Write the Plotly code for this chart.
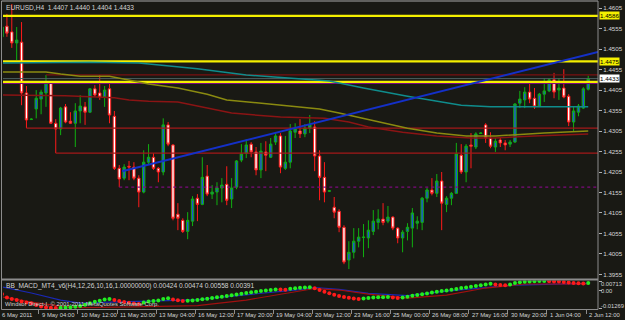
import plotly.graph_objects as go

# ---------------- data ----------------
bars = list(range(-8, 113))  # H4 bar index, 0 = 9 May 04:00

open_ = [1.4535, 1.4561, 1.4547, 1.4520, 1.4522, 1.4398, 1.4333, 1.4359,
         1.4383, 1.4398, 1.4422, 1.4324, 1.4310, 1.4364, 1.4329, 1.4324, 1.4354, 1.4364,
         1.4351, 1.4408, 1.4398, 1.4388, 1.4408, 1.4341, 1.4214, 1.4190, 1.4219, 1.4217,
         1.4190, 1.4156, 1.4229, 1.4241, 1.4214, 1.4205, 1.4320, 1.4271, 1.4102, 1.4087,
         1.4060, 1.4085, 1.4141, 1.4126, 1.4195, 1.4151, 1.4156, 1.4166, 1.4175, 1.4139,
         1.4168, 1.4234, 1.4251, 1.4273, 1.4254, 1.4210, 1.4254, 1.4241, 1.4278, 1.4293,
         1.4214, 1.4229, 1.4302, 1.4305, 1.4298, 1.4312, 1.4315, 1.4244, 1.4192, 1.4158,
         1.4119, 1.4109, 1.4070, 1.3990, 1.4009, 1.4036, 1.4045, 1.4044, 1.4060, 1.4082,
         1.4090, 1.4085, 1.4095, 1.4068, 1.4044, 1.4060, 1.4068, 1.4080, 1.4082, 1.4141,
         1.4161, 1.4153, 1.4183, 1.4126, 1.4141, 1.4153, 1.4246, 1.4205, 1.4271, 1.4266,
         1.4299, 1.4320, 1.4288, 1.4266, 1.4283, 1.4276, 1.4273, 1.4278, 1.4373, 1.4381,
         1.4400, 1.4385, 1.4366, 1.4395, 1.4403, 1.4430, 1.4405, 1.4410, 1.4390, 1.4327,
         1.4351, 1.4361, 1.4407]
high = [1.4576, 1.4591, 1.4615, 1.4559, 1.4571, 1.4415, 1.4336, 1.4405,
        1.4406, 1.4442, 1.4425, 1.4334, 1.4364, 1.4371, 1.4351, 1.4373, 1.4393, 1.4376,
        1.4410, 1.4417, 1.4442, 1.4415, 1.4420, 1.4354, 1.4222, 1.4224, 1.4232, 1.4229,
        1.4197, 1.4258, 1.4273, 1.4251, 1.4217, 1.4336, 1.4327, 1.4273, 1.4129, 1.4092,
        1.4107, 1.4146, 1.4151, 1.4241, 1.4222, 1.4173, 1.4180, 1.4190, 1.4219, 1.4190,
        1.4234, 1.4273, 1.4285, 1.4278, 1.4266, 1.4276, 1.4280, 1.4288, 1.4302, 1.4300,
        1.4293, 1.4322, 1.4324, 1.4334, 1.4322, 1.4344, 1.4329, 1.4258, 1.4229, 1.4161,
        1.4144, 1.4114, 1.4075, 1.4036, 1.4068, 1.4068, 1.4078, 1.4087, 1.4112, 1.4114,
        1.4129, 1.4122, 1.4097, 1.4070, 1.4063, 1.4080, 1.4117, 1.4097, 1.4144, 1.4166,
        1.4190, 1.4200, 1.4205, 1.4146, 1.4156, 1.4276, 1.4273, 1.4273, 1.4300, 1.4302,
        1.4302, 1.4324, 1.4302, 1.4288, 1.4288, 1.4283, 1.4283, 1.4373, 1.4403, 1.4412,
        1.4422, 1.4410, 1.4398, 1.4434, 1.4434, 1.4447, 1.4434, 1.4456, 1.4395, 1.4366,
        1.4371, 1.4412, 1.4440]
low = [1.4532, 1.4535, 1.4508, 1.4478, 1.4368, 1.4312, 1.4332, 1.4336,
       1.4346, 1.4364, 1.4322, 1.4251, 1.4295, 1.4324, 1.4322, 1.4266, 1.4324, 1.4320,
       1.4349, 1.4388, 1.4381, 1.4364, 1.4324, 1.4210, 1.4168, 1.4185, 1.4185, 1.4185,
       1.4119, 1.4153, 1.4222, 1.4210, 1.4180, 1.4197, 1.4268, 1.4087, 1.4063, 1.4056,
       1.4041, 1.4073, 1.4085, 1.4124, 1.4146, 1.4139, 1.4124, 1.4131, 1.4124, 1.4117,
       1.4163, 1.4229, 1.4239, 1.4241, 1.4197, 1.4190, 1.4207, 1.4239, 1.4271, 1.4202,
       1.4210, 1.4214, 1.4288, 1.4288, 1.4290, 1.4300, 1.4207, 1.4136, 1.4131, 1.4156,
       1.4092, 1.4058, 1.3980, 1.3968, 1.3994, 1.4021, 1.3997, 1.4019, 1.4051, 1.4065,
       1.4075, 1.4080, 1.4063, 1.4031, 1.4009, 1.4038, 1.4021, 1.4065, 1.4063, 1.4131,
       1.4148, 1.4144, 1.4063, 1.4107, 1.4124, 1.4152, 1.4200, 1.4180, 1.4214, 1.4261,
       1.4298, 1.4276, 1.4263, 1.4254, 1.4266, 1.4258, 1.4266, 1.4276, 1.4361, 1.4361,
       1.4373, 1.4359, 1.4364, 1.4376, 1.4400, 1.4385, 1.4381, 1.4385, 1.4317, 1.4305,
       1.4341, 1.4359, 1.4404]
close = [1.4559, 1.4544, 1.4520, 1.4527, 1.4398, 1.4332, 1.4334, 1.4385,
         1.4400, 1.4422, 1.4324, 1.4310, 1.4361, 1.4327, 1.4324, 1.4354, 1.4366, 1.4351,
         1.4408, 1.4393, 1.4388, 1.4405, 1.4344, 1.4214, 1.4188, 1.4217, 1.4217, 1.4190,
         1.4156, 1.4229, 1.4241, 1.4214, 1.4205, 1.4320, 1.4273, 1.4092, 1.4092, 1.4060,
         1.4087, 1.4139, 1.4126, 1.4192, 1.4151, 1.4156, 1.4166, 1.4173, 1.4136, 1.4166,
         1.4232, 1.4249, 1.4271, 1.4254, 1.4210, 1.4256, 1.4246, 1.4273, 1.4293, 1.4217,
         1.4229, 1.4305, 1.4310, 1.4298, 1.4312, 1.4320, 1.4244, 1.4192, 1.4156, 1.4159,
         1.4107, 1.4070, 1.3985, 1.4009, 1.4036, 1.4046, 1.4046, 1.4063, 1.4085, 1.4090,
         1.4082, 1.4095, 1.4068, 1.4044, 1.4058, 1.4070, 1.4105, 1.4085, 1.4141, 1.4161,
         1.4153, 1.4183, 1.4129, 1.4141, 1.4153, 1.4249, 1.4205, 1.4268, 1.4268, 1.4298,
         1.4300, 1.4288, 1.4268, 1.4280, 1.4276, 1.4271, 1.4278, 1.4371, 1.4383, 1.4400,
         1.4383, 1.4364, 1.4395, 1.4403, 1.4430, 1.4400, 1.4410, 1.4388, 1.4327, 1.4354,
         1.4366, 1.4408, 1.4433]

# moving averages (read at their turning points)
teal_x = [-8, 4, 10, 20, 26, 32, 42, 53, 59, 66, 75, 86, 92, 112]
teal_y = [1.4471, 1.4473, 1.4473, 1.4471, 1.4464, 1.4457, 1.4442, 1.4432, 1.4427,
          1.4410, 1.4390, 1.4368, 1.4364, 1.4364]
olive_x = [-8, 1, 4, 8, 14, 18, 22, 28, 34, 38, 47, 53, 57, 61, 75, 81, 87, 93, 99, 103, 112]
olive_y = [1.4449, 1.4449, 1.4444, 1.4439, 1.4439, 1.4430, 1.4420, 1.4410, 1.4395, 1.4381,
           1.4371, 1.4364, 1.4359, 1.4349, 1.4312, 1.4300, 1.4293, 1.4293, 1.4298, 1.4300, 1.4305]
red_x = [-8, 5, 15, 18, 22, 28, 34, 39, 49, 58, 63, 67, 74, 81, 88, 93, 101, 112]
red_y = [1.4393, 1.4391, 1.4386, 1.4381, 1.4378, 1.4376, 1.4361, 1.4349, 1.4339, 1.4336,
         1.4327, 1.4315, 1.4302, 1.4293, 1.4288, 1.4288, 1.4293, 1.4298]

# trend line and levels
trend_x = [16.6, 114.0]
trend_y = [1.4207, 1.4498]
yellow_levels = [1.4586, 1.4475, 1.4425]
purple_level = 1.4421
bid_level = 1.4433
sr_levels = [1.4442, 1.4312, 1.4251, 1.4168]
sr_start = [1, -3, 3, 16]
sr_colors = ["#7a1010", "#a31818", "#a31818", "#7d0a7d"]

# BB MACD indicator
macd = [-0.00242, -0.00499, -0.00609, -0.00683, -0.00793, -0.00866, -0.00925, -0.01050,
        -0.01160, -0.01218, -0.01255, -0.01270, -0.01255, -0.01233, -0.01211, -0.01182, -0.01123, -0.01035,
        -0.00925, -0.00807, -0.00734, -0.00646, -0.00609, -0.00683, -0.00756, -0.00829, -0.00888, -0.00940,
        -0.00976, -0.00866, -0.00793, -0.00756, -0.00719, -0.00609, -0.00558, -0.00646, -0.00705, -0.00756,
        -0.00741, -0.00712, -0.00683, -0.00631, -0.00587, -0.00536, -0.00484, -0.00440, -0.00389, -0.00338,
        -0.00279, -0.00220, -0.00169, -0.00117, -0.00073, -0.00022, 0.00015, 0.00051, 0.00088, 0.00081,
        0.00073, 0.00147, 0.00184, 0.00213, 0.00235, 0.00250, 0.00176, 0.00051, -0.00073, -0.00191,
        -0.00294, -0.00389, -0.00462, -0.00514, -0.00573, -0.00609, -0.00573, -0.00536, -0.00499, -0.00484,
        -0.00470, -0.00462, -0.00499, -0.00536, -0.00499, -0.00440, -0.00374, -0.00316, -0.00257, -0.00198,
        -0.00139, -0.00081, -0.00029, 0.00022, 0.00073, 0.00132, 0.00191, 0.00242, 0.00294, 0.00345,
        0.00396, 0.00448, 0.00506, 0.00455, 0.00418, 0.00404, 0.00455, 0.00565, 0.00617, 0.00653,
        0.00675, 0.00690, 0.00705, 0.00712, 0.00697, 0.00683, 0.00668, 0.00639, 0.00602, 0.00565,
        0.00551, 0.00536, 0.00565]
band_up_x = [-8, -2, 4, 8, 14, 20, 26, 32, 42, 53, 56, 61, 67, 75, 83, 97, 112]
band_up_y = [0.00272, -0.00169, -0.00683, -0.00903, -0.00829, -0.00793, -0.00719, -0.00646,
             -0.00316, 0.00088, 0.00235, 0.00103, -0.00191, -0.00352, -0.00022, 0.00418, 0.00543]
band_lo_x = [-8, -2, 4, 8, 16, 24, 32, 42, 50, 56, 61, 67, 75, 83, 91, 99, 112]
band_lo_y = [-0.00462, -0.00829, -0.01123, -0.01233, -0.01196, -0.01160, -0.01086, -0.00683,
             -0.00169, 0.00161, 0.00051, -0.00242, -0.00536, -0.00316, 0.00198, 0.00492, 0.00492]

time_tick_bars = [0, 8, 16, 24, 32, 40, 48, 56, 64, 72, 80, 88, 96, 104, 112]
time_tick_labels = ["9 May 04:00", "10 May 12:00", "11 May 20:00", "13 May 04:00",
                    "16 May 12:00", "17 May 20:00", "19 May 04:00", "20 May 12:00",
                    "23 May 16:00", "25 May 00:00", "26 May 08:00", "27 May 16:00",
                    "30 May 20:00", "1 Jun 04:00", "2 Jun 12:00"]
first_time_label = "6 May 2011"
price_ticks = [1.3955, 1.4005, 1.4055, 1.4105, 1.4155, 1.4205, 1.4255, 1.4305,
               1.4355, 1.4405, 1.4455, 1.4505, 1.4555, 1.4605]
ind_labels = ["0.00713", "0.00", "-0.01269"]
ind_label_vals = [0.00713, 0.0, -0.01269]

main_title = "EURUSD,H4  1.4407 1.4440 1.4404 1.4433"
ind_title = "BB_MACD_MT4_v6(H4,12,26,10,16,1.00000000) 0.00424 0.00474 0.00558 0.00391"
copyright_text = "Windsor Direct-I, © 2001-2011 MetaQuotes Software Corp."

# ---------------- layout constants ----------------
W, H = 625, 320
ML, MR, MT, MB = 3, 23, 2, 11
PW, PH = W - ML - MR, H - MT - MB
XR = [-7.8, 114.0]
BG = "#191914"
FONT = "Liberation Sans Narrow, Liberation Sans"
FS = 6.6
FS_T = 5.9
TXT = "#d4d4d4"
FRAME = "#8c8c8c"


def py(ypix):
    return (H - MB - ypix) / PH


def px(xpix):
    return (xpix - ML) / PW


fig = go.Figure()

# levels (behind candles)
for lv, st, col in zip(sr_levels, sr_start, sr_colors):
    fig.add_trace(go.Scatter(x=[st, XR[1]], y=[lv, lv], mode="lines",
                             line=dict(color=col, width=1.2,
                                       dash="dot" if col == "#7d0a7d" else "solid"),
                             hoverinfo="skip", showlegend=False))
fig.add_trace(go.Scatter(x=XR, y=[bid_level, bid_level], mode="lines",
                         line=dict(color="#4d5f5f", width=1), hoverinfo="skip", showlegend=False))
fig.add_trace(go.Scatter(x=XR, y=[purple_level, purple_level], mode="lines",
                         line=dict(color="#7d0a7d", width=1.2), hoverinfo="skip", showlegend=False))
for lv in yellow_levels:
    fig.add_trace(go.Scatter(x=XR, y=[lv, lv], mode="lines",
                             line=dict(color="#f5f000", width=2.2), hoverinfo="skip", showlegend=False))

# moving averages
fig.add_trace(go.Scatter(x=teal_x, y=teal_y, mode="lines", line=dict(color="#0f8c8c", width=1.5),
                         hoverinfo="skip", showlegend=False))
fig.add_trace(go.Scatter(x=olive_x, y=olive_y, mode="lines", line=dict(color="#8a8a10", width=1.5),
                         hoverinfo="skip", showlegend=False))
fig.add_trace(go.Scatter(x=red_x, y=red_y, mode="lines", line=dict(color="#8a1414", width=1.5),
                         hoverinfo="skip", showlegend=False))
fig.add_trace(go.Scatter(x=trend_x, y=trend_y, mode="lines", line=dict(color="#1430c8", width=2),
                         hoverinfo="skip", showlegend=False))

# candles
fig.add_trace(go.Candlestick(
    x=bars, open=open_, high=high, low=low, close=close,
    increasing=dict(fillcolor="#2050d8", line=dict(color="#10b010", width=1)),
    decreasing=dict(fillcolor="#ffffff", line=dict(color="#ff1a1a", width=1)),
    whiskerwidth=0, showlegend=False, hoverinfo="skip"))

# indicator
fig.add_trace(go.Scatter(x=band_up_x, y=band_up_y, mode="lines", line=dict(color="#1a28b4", width=1.2),
                         xaxis="x", yaxis="y2", hoverinfo="skip", showlegend=False))
fig.add_trace(go.Scatter(x=band_lo_x, y=band_lo_y, mode="lines", line=dict(color="#a01010", width=1.2),
                         xaxis="x", yaxis="y2", hoverinfo="skip", showlegend=False))
dot_colors = ["#ff1a1a" if k == 0 or macd[k] < macd[k - 1] else "#22ee22" for k in range(len(macd))]
fig.add_trace(go.Scatter(x=bars, y=macd, mode="markers",
                         marker=dict(color=dot_colors, size=4, line=dict(width=0)),
                         xaxis="x", yaxis="y2", hoverinfo="skip", showlegend=False))

main_dom = [py(278.5), 1.0]
ind_dom = [0.0, py(280.5)]

fig.update_layout(
    width=W, height=H, margin=dict(l=ML, r=MR, t=MT, b=MB, pad=0),
    paper_bgcolor=BG, plot_bgcolor=BG, showlegend=False,
    font=dict(family=FONT, size=FS, color=TXT),
    xaxis=dict(range=XR, anchor="y2", showgrid=False, zeroline=False, showline=False,
               rangeslider=dict(visible=False), tickvals=[b - 0.45 for b in time_tick_bars],
               ticks="outside", ticklen=4, tickcolor=FRAME, tickwidth=1, showticklabels=False),
    yaxis=dict(domain=main_dom, range=[1.3945, 1.4620], side="right", showgrid=False,
               zeroline=False, showline=False, tickvals=price_ticks,
               ticktext=[f"{v:.4f}" for v in price_ticks], ticks="outside", ticklen=3,
               tickcolor="#b0b0b0", tickfont=dict(size=6.2, color=TXT, family=FONT)),
    yaxis2=dict(domain=ind_dom, range=[-0.0134, 0.0075], side="right", showgrid=False,
                zeroline=False, showline=False, showticklabels=False,
                tickvals=ind_label_vals, ticks="outside", ticklen=3, tickcolor="#b0b0b0"),
)

# frame lines
shapes = [
    dict(type="line", xref="paper", yref="paper", x0=px(1.5), x1=px(1.5), y0=py(309.5), y1=py(1), line=dict(color=FRAME, width=1)),
    dict(type="line", xref="paper", yref="paper", x0=px(1.5), x1=px(602), y0=py(1), y1=py(1), line=dict(color="#a8a8a8", width=1)),
    dict(type="line", xref="paper", yref="paper", x0=px(602), x1=px(602), y0=py(309.5), y1=py(1), line=dict(color=FRAME, width=1)),
    dict(type="line", xref="paper", yref="paper", x0=px(1.5), x1=px(602), y0=py(279.5), y1=py(279.5), line=dict(color=FRAME, width=2)),
    dict(type="line", xref="paper", yref="paper", x0=px(1.5), x1=px(602), y0=py(309.5), y1=py(309.5), line=dict(color=FRAME, width=1)),
]
fig.update_layout(shapes=shapes)

ann = []
ann.append(dict(text=main_title, xref="paper", yref="paper", x=px(4), y=py(7),
                xanchor="left", yanchor="middle", showarrow=False, font=dict(size=FS, color=TXT)))
ann.append(dict(text=ind_title, xref="paper", yref="paper", x=px(4), y=py(285.5),
                xanchor="left", yanchor="middle", showarrow=False, font=dict(size=FS, color=TXT)))
ann.append(dict(text=copyright_text, xref="paper", yref="paper", x=px(3), y=py(304),
                xanchor="left", yanchor="middle", showarrow=False, font=dict(size=FS_T, color=TXT)))
ann.append(dict(text=first_time_label, xref="paper", yref="paper", x=px(0), y=py(315),
                xanchor="left", yanchor="middle", showarrow=False, font=dict(size=FS_T, color=TXT)))
for b, lab in zip(time_tick_bars, time_tick_labels):
    ann.append(dict(text=lab, xref="x", yref="paper", x=b - 0.3, y=py(315),
                    xanchor="left", yanchor="middle", showarrow=False, font=dict(size=FS_T, color=TXT)))
for lab, ypix in zip(ind_labels, [284.3, 290.5, 306]):
    ann.append(dict(text=lab, xref="paper", yref="paper", x=1, xshift=1, y=py(ypix),
                    xanchor="left", yanchor="middle", showarrow=False, font=dict(size=5.8, color=TXT)))
for lv in yellow_levels[:2]:
    ann.append(dict(text=f"{lv:.4f}", xref="paper", yref="y", x=1, xshift=1, y=lv,
                    xanchor="left", yanchor="middle", showarrow=False, bgcolor="#f5f000",
                    borderpad=0, font=dict(size=6.2, color="#000000")))
ann.append(dict(text=f"{bid_level:.4f}", xref="paper", yref="y", x=1, xshift=1, y=bid_level,
                xanchor="left", yanchor="middle", showarrow=False, bgcolor="#ffffff",
                borderpad=0, font=dict(size=6.2, color="#000000")))
fig.update_layout(annotations=ann)

fig.write_html("out.html")
